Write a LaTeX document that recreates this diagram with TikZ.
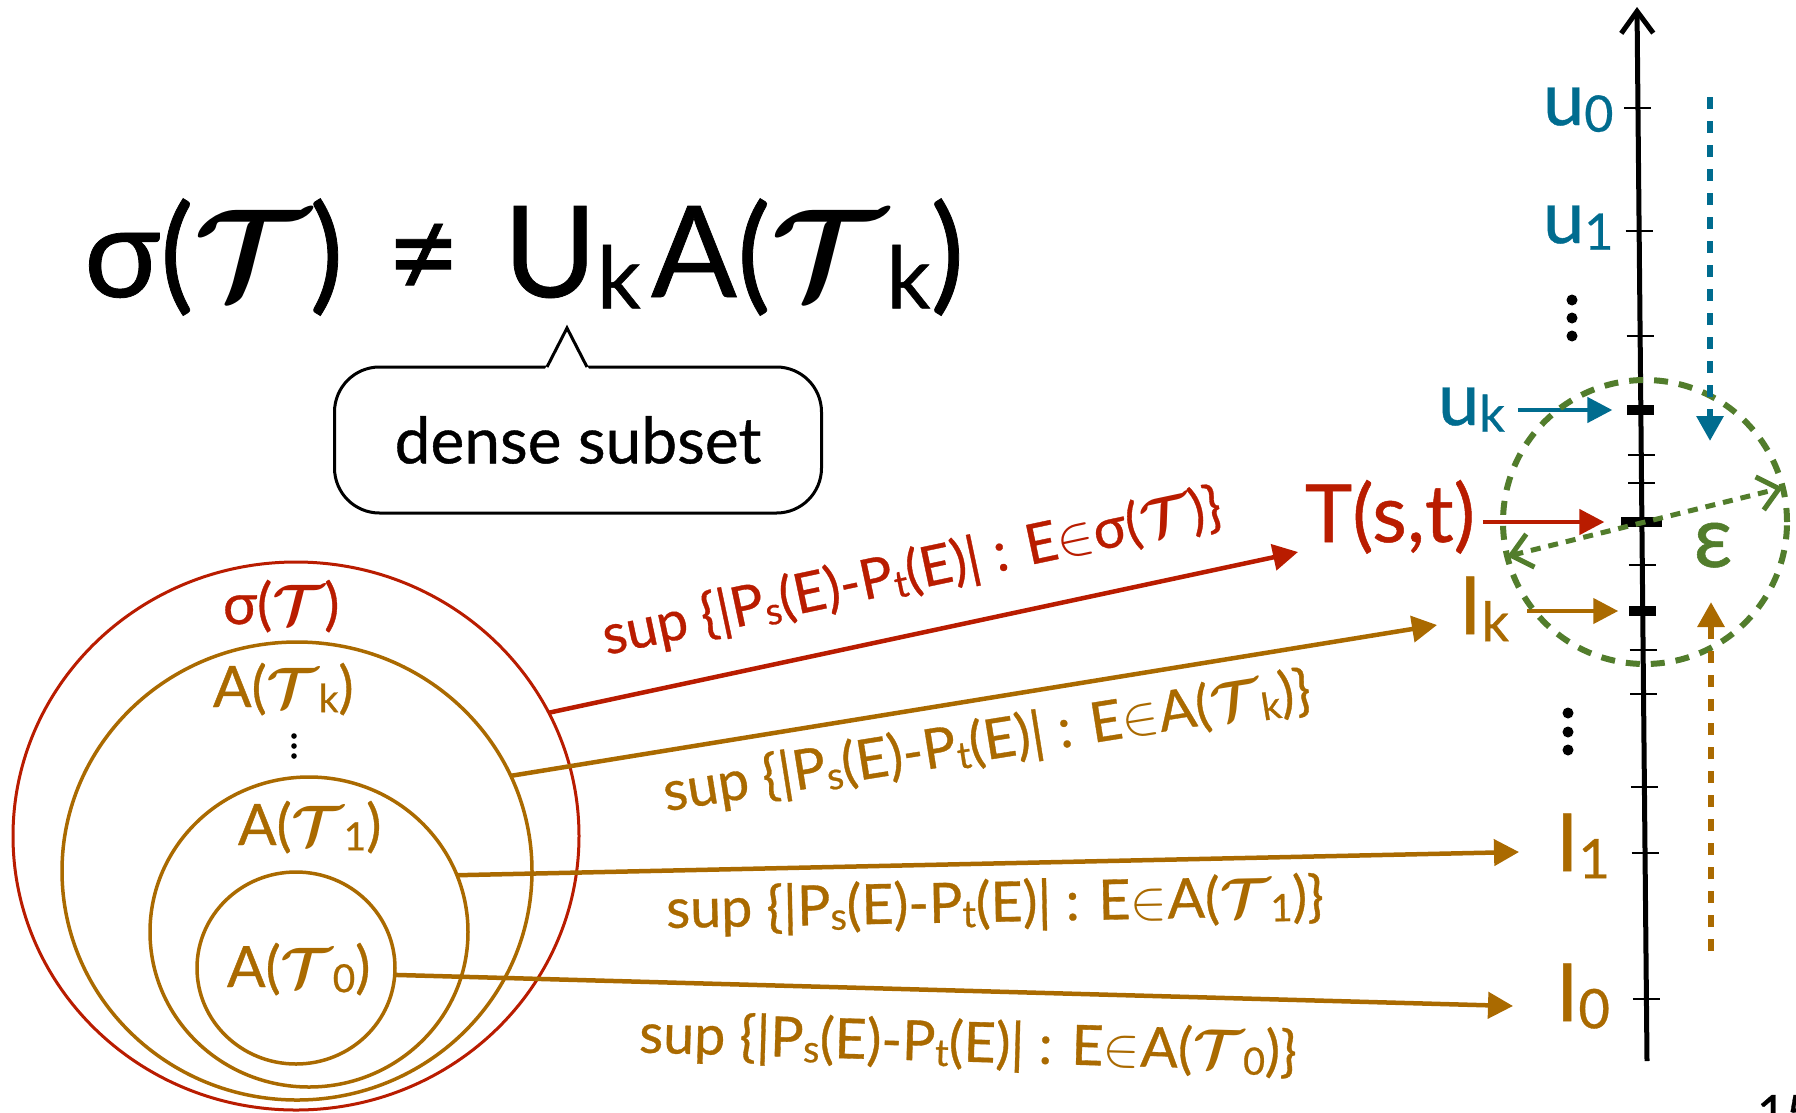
\RequirePackage{fix-cm}
\documentclass[tikz,border=0pt]{standalone}
\usepackage{fontspec}
\setmainfont{Lato}[RawFeature={embolden=0.6}]
\usepackage{graphicx}
\usetikzlibrary{arrows.meta,shapes.geometric,calc}
\definecolor{cred}{RGB}{185,28,0}
\definecolor{corange}{RGB}{170,106,0}
\definecolor{cteal}{RGB}{0,108,143}
\definecolor{cgreen}{RGB}{82,125,44}
\newcommand\sbx[1]{\raisebox{-0.09em}{\scalebox{0.68}{#1}}}
\newcommand\cT{\mbox{\boldmath$\mathcal{T}$}}
\begin{document}
\begin{tikzpicture}[x=1pt,y=-1pt,
  lab/.style={inner sep=0pt,outer sep=0pt},
  thintick/.style={line width=2.5pt},
  thicktick/.style={fill=black,inner sep=0pt,outer sep=0pt,minimum width=27pt,minimum height=10pt},
  ring/.style={ellipse,inner sep=0pt,outer sep=0pt},
  setarrow/.style={line width=4.5pt,-{Triangle[length=25pt,width=26pt]}},
  shortarrow/.style={line width=4.5pt,-{Triangle[length=25pt,width=25pt]}},
  dasharrow/.style={line width=6pt,dash pattern=on 12pt off 12pt,-{Triangle[length=25pt,width=26pt]}},
  axislab/.style={lab,font=\fontsize{74}{80}\selectfont},
  biglab/.style={lab,font=\fontsize{80}{90}\selectfont},
  setlab/.style={lab,font=\fontsize{57}{64}\selectfont},
  edgelab/.style={lab,font=\fontsize{55.5}{60}\selectfont}]
\useasboundingbox (0,0) rectangle (1796,1112);
\fill[white] (0,0) rectangle (1796,1112);

% ---------- title and callout ----------
\node[lab,anchor=base west,font=\fontsize{127}{145}\selectfont] (title) at (84,297)
  {σ(\cT)\hspace{0.34em}≠\hspace{0.34em}U\sbx{k}\hspace{0.08em}A(\cT\sbx{k})};
\node[draw,line width=3pt,rounded corners=45pt,minimum width=487pt,minimum height=146pt,
  inner sep=0pt,outer sep=0pt,font=\fontsize{64}{70}\selectfont] (callout) at (578,440) {dense subset};
\coordinate (ptr) at (567,328);
\fill[white] ($(ptr)+(-22,41)$) -- (ptr) -- ($(ptr)+(22,41)$) -- cycle;
\draw[line width=3pt] ($(ptr)+(-20,39)$) -- (ptr) -- ($(ptr)+(20,39)$);

% ---------- nested sets ----------
\node[ring,draw=cred,line width=3pt,minimum width=566pt,minimum height=548pt] (sig) at (296,836) {};
\node[ring,draw=corange,line width=3.5pt,minimum width=470pt,minimum height=458pt] (aTk) at (297,871) {};
\node[ring,draw=corange,line width=3.5pt,minimum width=318pt,minimum height=310pt] (aT1) at (309,932) {};
\node[ring,draw=corange,line width=3.5pt,minimum width=198pt,minimum height=192pt] (aT0) at (296,968) {};
\node[setlab,anchor=base west,text=cred] (lsig) at (223,624) {σ(\cT)};
\node[setlab,anchor=base west,text=corange] (lTk) at (213,707) {A(\cT\sbx{k})};
\node[setlab,anchor=base west,text=corange] (lT1) at (238,845) {A(\cT\sbx{1})};
\node[setlab,anchor=base west,text=corange] (lT0) at (227,987) {A(\cT\sbx{0})};
\foreach \yy in {736,746,756} \fill (294,\yy) circle (2.8pt);

% ---------- axis ----------
\coordinate (axbot) at (1647,1061);
\coordinate (axtop) at (1637,7);
\draw[line width=5pt,-{Straight Barb[length=22pt,width=32pt,line width=5pt]}] (axbot) -- (axtop);
\foreach \yy in {108,231,336,455,483,565,650,694,787,853,999}
  \draw[thintick] ($(axbot)!{(1061-\yy)/1054}!(axtop)$) ++(-13.5,0) -- ++(27,0);
\node[thicktick] (tuk) at ($(axbot)!{(1061-410)/1054}!(axtop)$) {};
\node[thicktick] (tik) at ($(axbot)!{(1061-611)/1054}!(axtop)$) {};
\node[thicktick,minimum width=41pt] (tst) at ($(axbot)!{(1061-522)/1054}!(axtop)$) {};

% ---------- axis labels ----------
\node[axislab,anchor=base west,text=cteal] (u0) at (1543,125) {u\sbx{0}};
\node[axislab,anchor=base west,text=cteal] (u1) at (1543,243) {u\sbx{1}};
\node[axislab,anchor=base west,text=cteal] (uk) at (1438,425) {u\sbx{k}};
\node[biglab,anchor=base west,text=cred] (Tst) at (1305,542) {T(s,t)};
\node[biglab,anchor=base west,text=corange] (Ik) at (1459,634) {I\sbx{k}};
\node[biglab,anchor=base west,text=corange] (I1) at (1556,871) {I\sbx{1}};
\node[biglab,anchor=base west,text=corange] (I0) at (1556,1021) {I\sbx{0}};
\foreach \yy in {300,318,336} \fill (1572,\yy) circle (5.5pt);
\foreach \yy in {713,732,750} \fill (1568,\yy) circle (5.5pt);

\draw[shortarrow,cteal,shorten <=13pt,shorten >=15pt] (uk.east |- tuk) -- (tuk.west);
\draw[shortarrow,cred,shorten <=8pt,shorten >=17pt] (Tst.east |- tst) -- (tst.west);
\draw[shortarrow,corange,shorten <=18pt,shorten >=11pt] (Ik.east |- tik) -- (tik.west);

% ---------- epsilon ball ----------
\node[circle,draw=cgreen,line width=6pt,dash pattern=on 14pt off 11pt,minimum size=284pt,
  inner sep=0pt,outer sep=0pt] (ecirc) at (1645,522) {};
\draw[cgreen,line width=5pt,dash pattern=on 10pt off 8pt,
  {Straight Barb[length=20pt,width=34pt,line width=5pt]}-{Straight Barb[length=20pt,width=34pt,line width=5pt]}]
  (ecirc.194.5) -- (ecirc.14.5);
\node[lab,anchor=base,text=cgreen,font=\fontsize{86}{90}\selectfont] (eps) at (1713,567) {ε};

\coordinate (tdtop) at (1710,97);
\coordinate (tdend) at (1710,441);
\draw[dasharrow,cteal] (tdtop) -- (tdend);
\coordinate (odbot) at (1711,951);
\coordinate (odend) at (1711,602);
\draw[dasharrow,corange] (odbot) -- (odend);

% ---------- sup arrows ----------
\draw[setarrow,cred] (sig.26.6) -- ([xshift=-7pt,yshift=-10pt]Tst.base west);
\draw[setarrow,corange] (aTk.24.5) -- ([xshift=-22pt,yshift=9pt]Ik.base west);
\draw[setarrow,corange] (aT1.21.9) -- ([xshift=-37pt,yshift=19pt]I1.base west);
\draw[setarrow,corange] (aT0.-4) -- ([xshift=-43pt,yshift=15pt]I0.base west);

\node[edgelab,text=cred,rotate=12] (s1) at (912,573)
  {sup \{|P\sbx{s}(E)-P\sbx{t}(E)| : E$\in$σ(\cT)\}};
\node[edgelab,text=corange,rotate=9.1] (s2) at (987,743)
  {sup \{|P\sbx{s}(E)-P\sbx{t}(E)| : E$\in$A(\cT\sbx{k})\}};
\node[edgelab,text=corange,rotate=1.1] (s3) at (995,905)
  {sup \{|P\sbx{s}(E)-P\sbx{t}(E)| : E$\in$A(\cT\sbx{1})\}};
\node[edgelab,text=corange,rotate=-1.6] (s4) at (968,1045)
  {sup \{|P\sbx{s}(E)-P\sbx{t}(E)| : E$\in$A(\cT\sbx{0})\}};

% page number
\node[lab,anchor=north west,font=\fontsize{50}{60}\selectfont] (pg) at (1757,1095) {15};
\end{tikzpicture}
\end{document}
